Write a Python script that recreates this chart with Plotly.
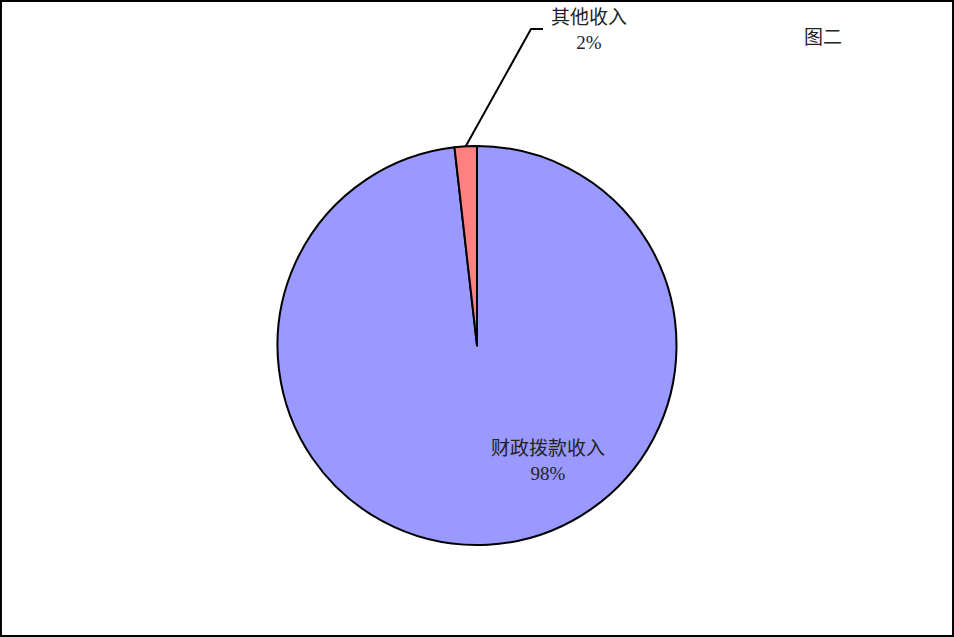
import math
import plotly.graph_objects as go

# data
labels = ["财政拨款收入", "其他收入"]
values = [98.2, 1.8]
colors = ["#9999FF", "#FF8080"]
title_text = "图二"

W, H = 954, 637
font_fam = "Liberation Serif, Noto Sans CJK SC"

# pie geometry (paper)
dom_y = [0.1444, 0.7708]
dom_x = [0.0, 1.0]
cx_px = W * (dom_x[0] + dom_x[1]) / 2
cy_px = H * (1 - (dom_y[0] + dom_y[1]) / 2)
r_px = (dom_y[1] - dom_y[0]) * H / 2

total = sum(values)
pct = [v / total for v in values]

fig = go.Figure(go.Pie(
    labels=labels,
    values=values,
    sort=False,
    direction="clockwise",
    rotation=0,
    textinfo="none",
    marker=dict(colors=colors, line=dict(color="black", width=2)),
    domain=dict(x=dom_x, y=dom_y),
    showlegend=False,
    hoverinfo="label+percent",
))

# mid angle of small slice (clockwise from 12 o'clock)
start = pct[0] * 360
mid = math.radians(start + pct[1] * 360 / 2)
sx = cx_px + r_px * math.sin(mid)
sy = cy_px - r_px * math.cos(mid)

# leader line: slice edge -> elbow -> label
ex, ey = 531, 29
hx = 543
fig.add_shape(
    type="path",
    xref="paper", yref="paper",
    path=f"M {sx/W},{1-sy/H} L {ex/W},{1-ey/H} L {hx/W},{1-ey/H}",
    line=dict(color="black", width=2),
)

fig.add_annotation(
    x=589 / W, y=1 - 30 / H, xref="paper", yref="paper",
    text=f"{labels[1]}<br>{pct[1]:.0%}", showarrow=False,
    font=dict(size=19, color="#222222", family=font_fam),
    xanchor="center", yanchor="middle",
)
fig.add_annotation(
    x=548 / W, y=1 - 461 / H, xref="paper", yref="paper",
    text=f"{labels[0]}<br>{pct[0]:.0%}", showarrow=False,
    font=dict(size=19, color="#222222", family=font_fam),
    xanchor="center", yanchor="middle",
)
fig.add_annotation(
    x=823 / W, y=1 - 38 / H, xref="paper", yref="paper",
    text=title_text, showarrow=False,
    font=dict(size=19, color="#222222", family=font_fam),
    xanchor="center", yanchor="middle",
)

# frame
fig.add_shape(
    type="rect", xref="paper", yref="paper",
    x0=0.001, y0=0.0015, x1=0.999, y1=0.9985,
    line=dict(color="black", width=2),
)

fig.update_layout(
    width=W, height=H,
    margin=dict(l=0, r=0, t=0, b=0),
    paper_bgcolor="white",
    plot_bgcolor="white",
)

fig.write_html("out.html", config={"displayModeBar": False},
               post_script="document.body.style.margin='0';")
